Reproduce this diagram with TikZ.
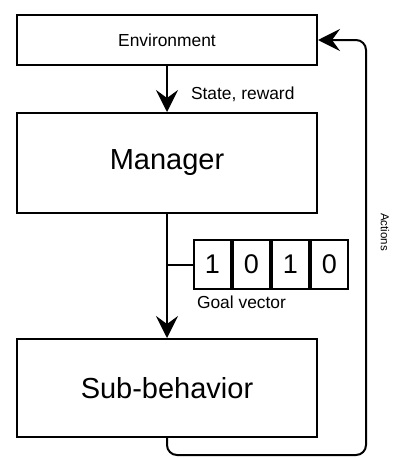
\documentclass[tikz,border=0pt]{standalone}
\usepackage{fontspec}
\setmainfont{Liberation Sans}
\usetikzlibrary{arrows.meta}

\begin{document}
\begin{tikzpicture}[x=1pt,y=-1pt,
  line width=2pt,
  block/.style={draw, rectangle, minimum width=300pt, inner sep=0pt},
  bigtext/.style={font=\fontsize{29}{33}\selectfont},
  smalltext/.style={font=\fontsize{17.4}{20}\selectfont},
  cell/.style={draw, rectangle, minimum width=37pt, minimum height=49pt,
               inner sep=0pt, font=\fontsize{27}{31}\selectfont},
  arr/.style={-{Stealth[length=22pt,width=22pt,inset=8pt]}}]
\useasboundingbox (0,0) rectangle (392,458);

% the three stacked blocks
\node[block, minimum height=50pt, smalltext] (env) at (167,40) {Environment};
\node[block, minimum height=100pt, bigtext] (mgr) at (167,163) {Manager};
\node[block, minimum height=98pt, bigtext] (sub) at (167,388) {Sub-behavior};

% goal vector cells
\node[cell] (c1) at (212.5,264.5) {1};
\node[cell, anchor=west] (c2) at (c1.east) {0};
\node[cell, anchor=west] (c3) at (c2.east) {1};
\node[cell, anchor=west] (c4) at (c3.east) {0};
\node[smalltext, anchor=base west, inner sep=0pt] (goal) at (196,308) {Goal vector};

% labels
\node[smalltext, anchor=base west, inner sep=0pt] (state) at (190,99) {State, reward};
\node[font=\fontsize{11.5}{13}\selectfont, rotate=-90, inner sep=0pt] (act) at (385,232) {Actions};

% connectors
\draw[arr] (env.south) -- (mgr.north);
\draw[arr] (mgr.south) -- (sub.north);
\draw (mgr.south |- c1.west) -- (c1.west);

\coordinate (loopR) at (366,455);
\draw[arr, rounded corners=10pt] (sub.south) |- (loopR) |- (env.east);
\end{tikzpicture}
\end{document}
